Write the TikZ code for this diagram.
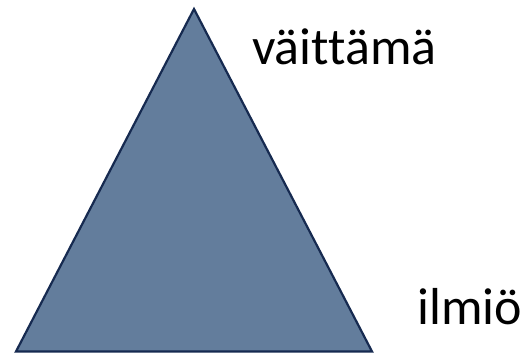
\documentclass[tikz,border=0pt]{standalone}
\usepackage{fontspec}
\setmainfont{Carlito}[Ligatures=NoCommon]
\definecolor{trifill}{RGB}{99,125,156}
\definecolor{triline}{RGB}{22,42,80}
\tikzset{
  tri/.style={fill=trifill, draw=triline, line width=2.2pt, line join=miter},
  lbl/.style={inner sep=0pt, anchor=base west, font=\fontsize{52}{60}\selectfont, text=black}
}
\begin{document}
\begin{tikzpicture}[x=1pt,y=1pt]
\useasboundingbox (0,0) rectangle (527,353);
\coordinate (apex) at (194,344);
\coordinate (bl) at (16,1.5);
\coordinate (br) at (372,1.5);
\draw[tri] (apex) -- (br) -- (bl) -- cycle;
\node[lbl] (claim) at (252,288) {väittämä};
\node[lbl] (phen) at (417,28) {ilmiö};
\end{tikzpicture}
\end{document}
